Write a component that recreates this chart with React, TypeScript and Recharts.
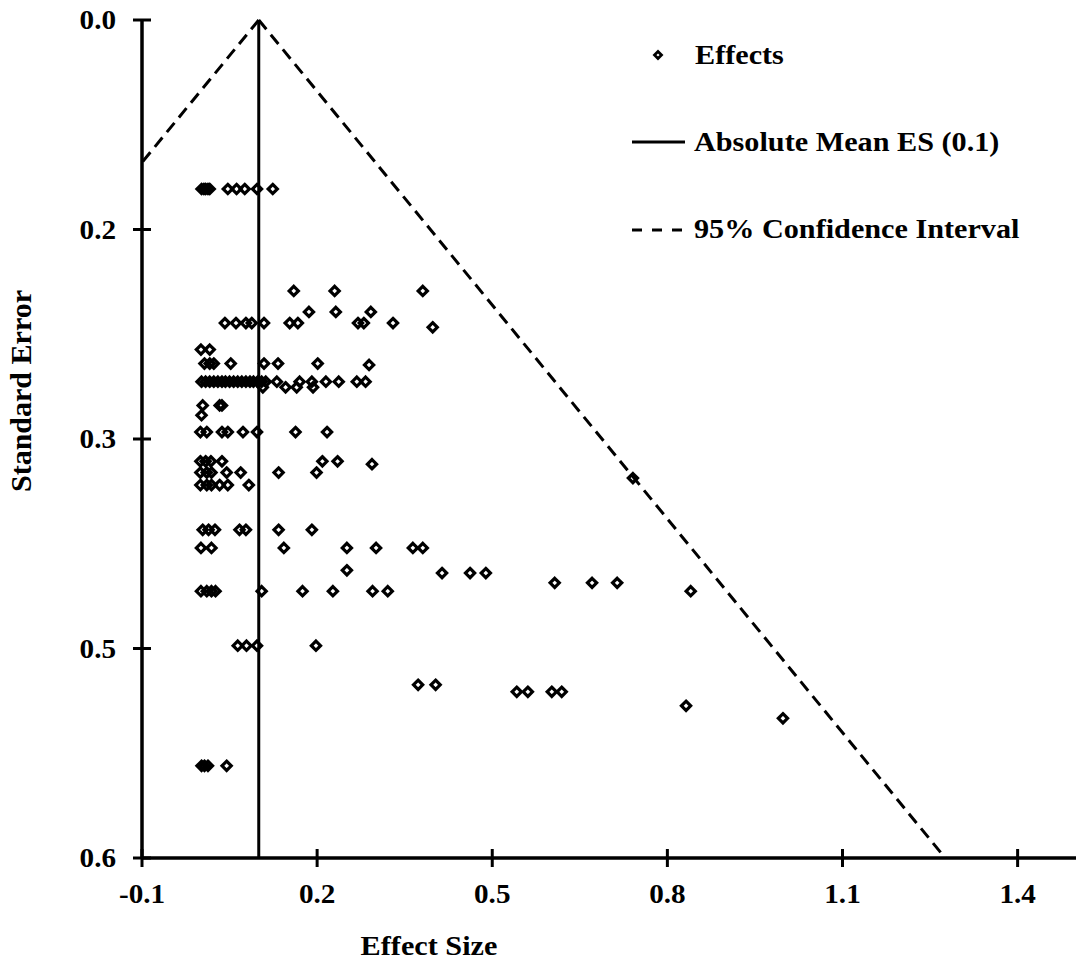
import { ScatterChart, Scatter, XAxis, YAxis, ReferenceLine, Legend } from "recharts";

const FONT = '"Liberation Serif", "Times New Roman", Times, serif';

// funnel: mean effect and the 95% CI bounds
const meanES = 0.1;
const ciApex = { x: 0.1, y: 0 };
const ciLeftEnd = { x: -0.1, y: 0.102 };
const ciRightEnd = { x: 1.276, y: 0.6 };

const xTicks = [-0.1, 0.2, 0.5, 0.8, 1.1, 1.4];
const yTicks = [0, 0.15, 0.3, 0.45, 0.6];
const yTickLabels = ["0.0", "0.2", "0.3", "0.5", "0.6"];

// standard error of each row of effects, and the effect sizes in that row
const seLevels = [
  0.121, 0.194, 0.209, 0.217, 0.22, 0.236, 0.246, 0.247, 0.259, 0.263,
  0.276, 0.283, 0.295, 0.316, 0.318, 0.324, 0.328, 0.333, 0.365, 0.378,
  0.394, 0.396, 0.403, 0.409, 0.448, 0.476, 0.481, 0.491, 0.5, 0.534,
];
const esByLevel = [
  [0.002, 0.006, 0.009, 0.013, 0.016, 0.047, 0.062, 0.076, 0.097, 0.124],
  [0.16, 0.23, 0.381],
  [0.186, 0.232, 0.292],
  [0.042, 0.061, 0.078, 0.088, 0.109, 0.153, 0.167, 0.27, 0.28, 0.33],
  [0.398],
  [0.001, 0.016],
  [0.007, 0.016, 0.023, 0.052, 0.109, 0.133, 0.201],
  [0.289],
  [
    0.002, 0.009, 0.016, 0.023, 0.03, 0.037, 0.043, 0.05, 0.057, 0.064, 0.071,
    0.078, 0.085, 0.091, 0.098, 0.105, 0.112, 0.131, 0.17, 0.191, 0.215, 0.237,
    0.268, 0.283,
  ],
  [0.107, 0.146, 0.165, 0.193],
  [0.004, 0.033, 0.037],
  [0.002],
  [0.0, 0.011, 0.037, 0.047, 0.073, 0.097, 0.163, 0.217],
  [0.0, 0.009, 0.018, 0.037, 0.209, 0.235],
  [0.294],
  [0.0, 0.011, 0.019, 0.045, 0.069, 0.134, 0.199],
  [0.741],
  [0.0, 0.011, 0.019, 0.033, 0.047, 0.083],
  [0.004, 0.014, 0.025, 0.067, 0.078, 0.134, 0.191],
  [0.001, 0.019, 0.143, 0.251, 0.301, 0.364, 0.381],
  [0.251],
  [0.414, 0.462, 0.489],
  [0.607, 0.671, 0.714],
  [0.001, 0.011, 0.019, 0.026, 0.105, 0.175, 0.227, 0.295, 0.321, 0.84],
  [0.064, 0.079, 0.097, 0.198],
  [0.373, 0.403],
  [0.542, 0.561, 0.602, 0.619],
  [0.832],
  [0.998],
  [0.002, 0.007, 0.013, 0.045],
];

const effects = seLevels.flatMap((se, i) => esByLevel[i].map((es) => ({ es, se })));

const textStyle = { fontFamily: FONT, fontWeight: 700, fill: "#000" };

const Diamond = (props: any) => {
  const { cx, cy } = props;
  const r = 4.6;
  return (
    <path
      d={`M${cx},${cy - r}L${cx + r},${cy}L${cx},${cy + r}L${cx - r},${cy}Z`}
      fill="none"
      stroke="#000"
      strokeWidth={3.2}
    />
  );
};

const XTick = (props: any) => {
  const { x, y, payload } = props;
  return (
    <g>
      <line x1={x} x2={x} y1={y - 9} y2={y + 9} stroke="#000" strokeWidth={3} />
      <text
        transform={`translate(${x},${y + 45}) scale(1.08,1)`}
        textAnchor="middle"
        fontSize={27}
        {...textStyle}
      >
        {payload.value.toFixed(1)}
      </text>
    </g>
  );
};

const YTick = (props: any) => {
  const { x, y, index } = props;
  return (
    <g>
      <line x1={x - 9} x2={x + 9} y1={y} y2={y} stroke="#000" strokeWidth={3} />
      <text
        transform={`translate(${x - 26},${y + 9}) scale(1.08,1)`}
        textAnchor="end"
        fontSize={27}
        {...textStyle}
      >
        {yTickLabels[index]}
      </text>
    </g>
  );
};

const LegendBox = () => (
  <svg width={440} height={240} style={{ display: "block" }}>
    <path d="M38,26.5 L41.5,30 L38,33.5 L34.5,30 Z" fill="none" stroke="#000" strokeWidth={2.8} />
    <text transform="translate(75,39) scale(1.14,1)" fontSize={26.5} {...textStyle}>
      Effects
    </text>
    <line x1={12} x2={65} y1={117} y2={117} stroke="#000" strokeWidth={3} />
    <text transform="translate(74,126) scale(1.14,1)" fontSize={26.5} {...textStyle}>
      Absolute Mean ES (0.1)
    </text>
    <line x1={12} x2={65} y1={205} y2={205} stroke="#000" strokeWidth={3} strokeDasharray="10 10" />
    <text transform="translate(74,213) scale(1.14,1)" fontSize={26.5} {...textStyle}>
      95% Confidence Interval
    </text>
  </svg>
);

export default function App() {
  return (
    <div style={{ position: "absolute", left: 0, top: 0, width: 1077, height: 966, background: "#fff" }}>
      <ScatterChart width={1077} height={966} margin={{ top: 20, right: 1, bottom: 0, left: 0 }}>
        <XAxis
          type="number"
          dataKey="es"
          domain={[-0.1, 1.5]}
          ticks={xTicks}
          height={108}
          tickSize={0}
          tickMargin={0}
          tickLine={false}
          tick={XTick}
          axisLine={{ stroke: "#000", strokeWidth: 3.5 }}
          label={{
            content: () => (
              <text transform="translate(429,955) scale(1.12,1)" textAnchor="middle" fontSize={27} {...textStyle}>
                Effect Size
              </text>
            ),
          }}
        />
        <YAxis
          type="number"
          dataKey="se"
          domain={[0, 0.6]}
          ticks={yTicks}
          reversed
          width={142}
          tickSize={0}
          tickMargin={0}
          tickLine={false}
          tick={YTick}
          axisLine={{ stroke: "#000", strokeWidth: 3.5 }}
          label={{
            content: () => (
              <text transform="translate(31,391) rotate(-90)" textAnchor="middle" fontSize={30} {...textStyle}>
                Standard Error
              </text>
            ),
          }}
        />
        <ReferenceLine x={meanES} stroke="#000" strokeWidth={3} />
        <ReferenceLine
          segment={[ciApex, ciLeftEnd]}
          stroke="#000"
          strokeWidth={3}
          strokeDasharray="12 7"
          ifOverflow="visible"
        />
        <ReferenceLine
          segment={[ciApex, ciRightEnd]}
          stroke="#000"
          strokeWidth={3}
          strokeDasharray="12 7"
          ifOverflow="visible"
        />
        <Scatter data={effects} shape={Diamond} isAnimationActive={false} />
        <Legend
          layout="vertical"
          align="center"
          verticalAlign="middle"
          content={LegendBox}
          wrapperStyle={{ left: 620, top: 25, width: 440, height: 240 }}
        />
      </ScatterChart>
    </div>
  );
}
